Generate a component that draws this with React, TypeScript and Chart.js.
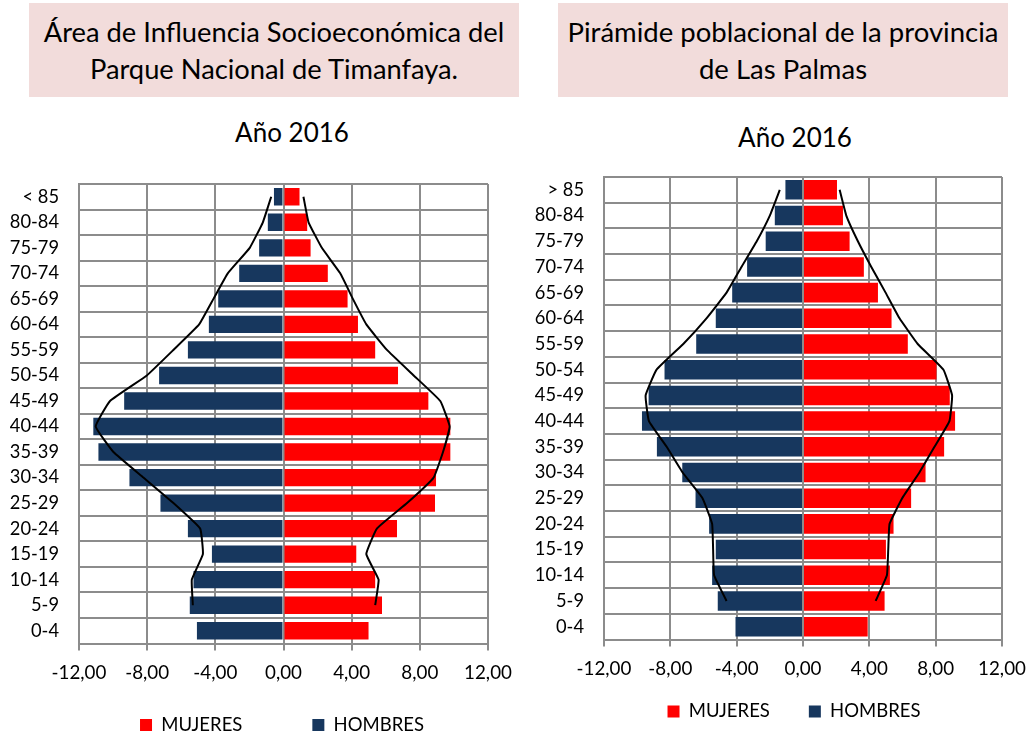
import React, { useEffect, useRef } from 'react';
import { Chart, registerables } from 'chart.js';

Chart.register(...registerables);

// ---------- DATA ----------
const LEFT_AGE_LABELS = ['< 85', '80-84', '75-79', '70-74', '65-69', '60-64', '55-59', '50-54', '45-49', '40-44', '35-39', '30-34', '25-29', '20-24', '15-19', '10-14', '5-9', '0-4'];
const RIGHT_AGE_LABELS = ['> 85', '80-84', '75-79', '70-74', '65-69', '60-64', '55-59', '50-54', '45-49', '40-44', '35-39', '30-34', '25-29', '20-24', '15-19', '10-14', '5-9', '0-4'];

const LEFT_MUJERES = [0.94, 1.39, 1.59, 2.60, 3.76, 4.37, 5.38, 6.72, 8.50, 9.79, 9.79, 8.95, 8.89, 6.66, 4.27, 5.38, 5.78, 4.99];
const LEFT_HOMBRES = [-0.56, -0.92, -1.43, -2.60, -3.83, -4.38, -5.61, -7.30, -9.35, -11.16, -10.86, -9.04, -7.22, -5.61, -4.20, -5.28, -5.50, -5.08];
const LEFT_REF_HOMBRES = [-0.72, -1.21, -1.98, -3.27, -4.11, -4.95, -6.46, -8.02, -10.18, -11.02, -9.98, -8.22, -6.46, -4.89, -4.73, -5.38, -5.32, null];
const LEFT_REF_MUJERES = [1.17, 1.47, 2.25, 3.33, 4.07, 4.86, 6.07, 7.64, 9.20, 9.75, 9.36, 8.81, 7.25, 5.48, 4.86, 5.58, 5.38, null];

const RIGHT_MUJERES = [2.05, 2.41, 2.81, 3.67, 4.52, 5.34, 6.32, 8.05, 8.85, 9.17, 8.51, 7.39, 6.52, 5.46, 5.00, 5.24, 4.92, 3.90];
const RIGHT_HOMBRES = [-1.06, -1.70, -2.25, -3.37, -4.27, -5.26, -6.44, -8.35, -9.31, -9.71, -8.81, -7.28, -6.48, -5.66, -5.26, -5.48, -5.14, -4.07];
const RIGHT_REF_HOMBRES = [-1.40, -2.00, -2.79, -3.71, -4.61, -5.82, -7.22, -8.83, -9.49, -9.29, -8.22, -7.26, -6.06, -5.48, -5.42, -5.36, -4.61, null];
const RIGHT_REF_MUJERES = [2.21, 2.61, 3.31, 4.12, 4.98, 5.82, 6.92, 8.47, 8.99, 8.83, 7.93, 7.02, 5.98, 5.22, 5.14, 5.06, 4.38, null];

const X_TICKS = [-12, -8, -4, 0, 4, 8, 12];
const X_TICK_LABELS = ['-12,00', '-8,00', '-4,00', '0,00', '4,00', '8,00', '12,00'];

const SERIES_NAMES = ['MUJERES', 'HOMBRES'];
const LEFT_TITLE = ['Área de Influencia Socioeconómica del', 'Parque Nacional de Timanfaya.'];
const RIGHT_TITLE = ['Pirámide poblacional de la provincia', 'de Las Palmas'];
const SUBTITLE = 'Año 2016';

// ---------- STYLE ----------
const FONT = 'Lato, "Open Sans", sans-serif';
const GRID = '#8c8c8c';
const RED = '#FF0000';
const NAVY = '#17375E';
const PINK = '#F2DCDB';
const TICK_SIZE = 18.8;
const YTICK_SIZE = 18.3;
const LEGEND_SIZE = 18.5;

type PyrProps = {
  labels: string[];
  mujeres: number[];
  hombres: number[];
  refM: (number | null)[];
  refH: (number | null)[];
  width: number;
  height: number;
  left: number;
  top: number;
  padTop: number;
  padRight: number;
  yAxisW: number;
  xAxisH: number;
  legendPad: number;
  legendCX: number;
  legendCY: number;
  barPct: number;
};

function Pyramid(p: PyrProps) {
  const ref = useRef<HTMLCanvasElement | null>(null);
  useEffect(() => {
    if (!ref.current) return;
    const lineDs = (data: (number | null)[], label: string) => ({
      type: 'line' as const,
      label,
      data,
      indexAxis: 'y' as const,
      borderColor: '#000',
      borderWidth: 2,
      pointRadius: 0,
      fill: false,
      tension: 0.1,
      spanGaps: false,
      order: 0,
    });
    const legendPlacer = {
      id: 'legendPlacer',
      afterLayout(chart: any) {
        const lg = chart.legend;
        if (!lg) return;
        const P = p.legendPad;
        const ih = LEGEND_SIZE;
        const top = p.legendCY - p.top - ih / 2 - P;
        const h = lg.bottom - lg.top;
        lg.top = top;
        lg.bottom = top + h;
        const cx = p.legendCX - p.left;
        const half = (lg.right - lg.left) / 2;
        lg.left = cx - half;
        lg.right = cx + half;
      },
    };
    const chart = new Chart(ref.current, {
      type: 'bar',
      data: {
        labels: p.labels,
        datasets: [
          lineDs(p.refH, 'ref-h'),
          lineDs(p.refM, 'ref-m'),
          {
            type: 'bar',
            label: SERIES_NAMES[0],
            data: p.mujeres,
            backgroundColor: RED,
            borderWidth: 0,
            grouped: false,
            barPercentage: p.barPct,
            categoryPercentage: 1,
            order: 1,
          } as any,
          {
            type: 'bar',
            label: SERIES_NAMES[1],
            data: p.hombres,
            backgroundColor: NAVY,
            borderWidth: 0,
            grouped: false,
            barPercentage: p.barPct,
            categoryPercentage: 1,
            order: 1,
          } as any,
        ],
      },
      plugins: [legendPlacer],
      options: {
        indexAxis: 'y',
        responsive: false,
        animation: false,
        layout: { padding: { top: p.padTop, right: p.padRight, left: 0, bottom: 0 } },
        scales: {
          x: {
            type: 'linear',
            min: -12,
            max: 12,
            ticks: {
              stepSize: 4,
              autoSkip: false,
              maxRotation: 0,
              padding: 11,
              color: '#000',
              font: { family: FONT, size: TICK_SIZE },
              callback: (v: any) => {
                const i = X_TICKS.indexOf(Number(v));
                return i >= 0 ? X_TICK_LABELS[i] : '';
              },
            },
            grid: { color: GRID, lineWidth: 2, drawTicks: true, tickLength: 7 },
            border: { color: GRID, width: 2 },
            afterFit: (s: any) => { s.height = p.xAxisH; },
          },
          y: {
            type: 'category',
            ticks: {
              padding: 0,
              color: '#000',
              font: { family: FONT, size: YTICK_SIZE },
              autoSkip: false,
            },
            grid: {
              color: GRID,
              lineWidth: 2,
              drawTicks: true,
              tickLength: 20,
              tickColor: 'rgba(0,0,0,0)',
              offset: true,
            },
            border: { color: GRID, width: 2 },
            afterFit: (s: any) => { s.width = p.yAxisW; },
          },
        },
        plugins: {
          legend: {
            position: 'bottom',
            fullSize: true,
            labels: {
              filter: (item: any) => SERIES_NAMES.includes(item.text),
              boxWidth: 12,
              boxHeight: 12,
              padding: p.legendPad,
              color: '#000',
              font: { family: FONT, size: LEGEND_SIZE },
            },
          },
          tooltip: { enabled: false },
          title: { display: false },
        },
      } as any,
    });
    return () => chart.destroy();
  }, []);
  return (
    <canvas
      ref={ref}
      width={p.width}
      height={p.height}
      style={{ position: 'absolute', left: p.left, top: p.top, width: p.width, height: p.height }}
    />
  );
}

function TitleBox({ lines, left, width, size }: { lines: string[]; left: number; width: number; size: number }) {
  return (
    <div
      style={{
        position: 'absolute',
        left,
        top: 3,
        width,
        height: 94,
        background: PINK,
        display: 'flex',
        flexDirection: 'column',
        justifyContent: 'center',
        alignItems: 'center',
        fontSize: size,
        lineHeight: '37px',
        color: '#000',
        whiteSpace: 'nowrap',
      }}
    >
      {lines.map((l, i) => (
        <div key={i}>{l}</div>
      ))}
    </div>
  );
}

function Subtitle({ cx, cy }: { cx: number; cy: number }) {
  return (
    <div
      style={{
        position: 'absolute',
        left: cx - 100,
        top: cy - 16,
        width: 200,
        height: 32,
        lineHeight: '32px',
        textAlign: 'center',
        fontSize: 26,
        color: '#000',
      }}
    >
      {SUBTITLE}
    </div>
  );
}

export default function App() {
  return (
    <div
      style={{
        position: 'absolute',
        left: 0,
        top: 0,
        width: 1029,
        height: 733,
        overflow: 'hidden',
        background: '#fff',
        fontFamily: FONT,
      }}
    >
      <TitleBox lines={LEFT_TITLE} left={29} width={490} size={27.3} />
      <TitleBox lines={RIGHT_TITLE} left={558} width={450} size={27.5} />
      <Subtitle cx={292} cy={132} />
      <Subtitle cx={795} cy={137} />
      <Pyramid
        labels={LEFT_AGE_LABELS}
        mujeres={LEFT_MUJERES}
        hombres={LEFT_HOMBRES}
        refM={LEFT_REF_MUJERES}
        refH={LEFT_REF_HOMBRES}
        left={0}
        top={170}
        width={528}
        height={612}
        padTop={14}
        padRight={40}
        yAxisW={79}
        xAxisH={40}
        legendPad={70}
        legendCX={282}
        legendCY={725}
        barPct={0.68}
      />
      <Pyramid
        labels={RIGHT_AGE_LABELS}
        mujeres={RIGHT_MUJERES}
        hombres={RIGHT_HOMBRES}
        refM={RIGHT_REF_MUJERES}
        refH={RIGHT_REF_HOMBRES}
        left={520}
        top={160}
        width={522}
        height={587}
        padTop={17}
        padRight={40}
        yAxisW={84}
        xAxisH={40}
        legendPad={39}
        legendCX={794}
        legendCY={711.5}
        barPct={0.76}
      />
    </div>
  );
}
